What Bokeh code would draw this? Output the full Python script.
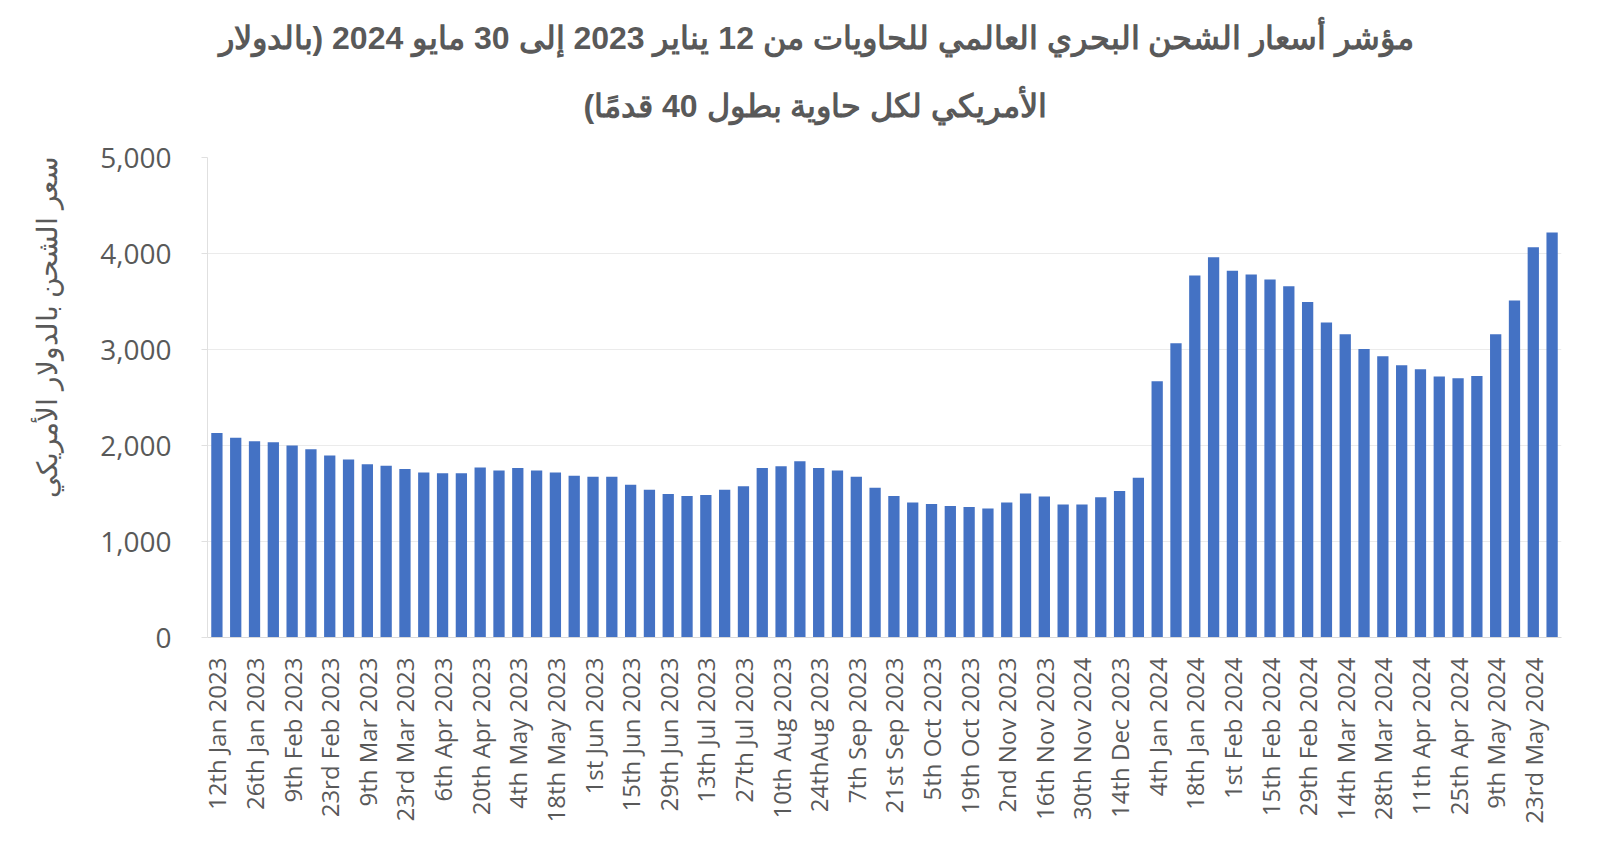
from math import pi
from bokeh.plotting import figure
from bokeh.models import FixedTicker, NumeralTickFormatter, Title, Range1d, ColumnDataSource
from bokeh.embed import file_html
from bokeh.resources import INLINE

title_line1 = "مؤشر أسعار الشحن البحري العالمي للحاويات من 12 يناير 2023 إلى 30 مايو 2024 (بالدولار"
title_line2 = "الأمريكي لكل حاوية بطول 40 قدمًا)" + "\u200f"
y_label = "سعر الشحن بالدولار الأمريكي"

tick_labels = [
    "12th Jan 2023", "26th Jan 2023", "9th Feb 2023", "23rd Feb 2023", "9th Mar 2023",
    "23rd Mar 2023", "6th Apr 2023", "20th Apr 2023", "4th May 2023", "18th May 2023",
    "1st Jun 2023", "15th Jun 2023", "29th Jun 2023", "13th Jul 2023", "27th Jul 2023",
    "10th Aug 2023", "24thAug 2023", "7th Sep 2023", "21st Sep 2023", "5th Oct 2023",
    "19th Oct 2023", "2nd Nov 2023", "16th Nov 2023", "30th Nov 2024", "14th Dec 2023",
    "4th Jan 2024", "18th Jan 2024", "1st Feb 2024", "15th Feb 2024", "29th Feb 2024",
    "14th Mar 2024", "28th Mar 2024", "11th Apr 2024", "25th Apr 2024", "9th May 2024",
    "23rd May 2024",
]

prices = [
    2130, 2080, 2045, 2035, 2000, 1960, 1895, 1855, 1805, 1790,
    1755, 1720, 1710, 1710, 1770, 1740, 1765, 1740, 1720, 1685,
    1675, 1675, 1590, 1540, 1495, 1475, 1485, 1540, 1575, 1765,
    1785, 1835, 1765, 1740, 1675, 1560, 1475, 1405, 1390, 1370,
    1360, 1345, 1405, 1500, 1470, 1385, 1385, 1460, 1525, 1665,
    2670, 3065, 3770, 3960, 3820, 3780, 3730, 3660, 3495, 3280,
    3160, 3005, 2930, 2835, 2795, 2720, 2700, 2725, 3160, 3510,
    4065, 4220,
]

idx = list(range(len(prices)))
src = ColumnDataSource(data=dict(x=idx, top=prices))

GREY = "#595959"

p = figure(
    frame_width=1354, frame_height=480,
    x_range=Range1d(-0.5, len(prices) - 0.5),
    y_range=Range1d(0, 5000),
    output_backend="svg", toolbar_location=None,
    min_border_left=207, min_border_right=20, min_border_top=157, min_border_bottom=185,
)
p.outline_line_color = None
p.background_fill_color = "white"

p.vbar(x="x", top="top", width=0.6, bottom=0, source=src,
       fill_color="#4472C4", line_color=None)

# titles (p.title is the outer line, the added Title sits just above the plot)
p.title.text = title_line1
p.title.align = "left"
p.title.offset = 11
p.title.vertical_align = "bottom"
p.title.text_font = "Liberation Sans"
p.title.text_font_style = "bold"
p.title.text_font_size = "32px"
p.title.text_color = GREY
p.title.standoff = 0
p.add_layout(Title(text=title_line2, align="left", offset=376, vertical_align="top",
                   text_font="Liberation Sans", text_font_style="bold",
                   text_font_size="32px", text_color=GREY,
                   standoff=64), "above")

# x axis
xa = p.xaxis[0]
xa.ticker = FixedTicker(ticks=idx[::2])
xa.major_label_overrides = {i: lab for i, lab in zip(idx[::2], tick_labels)}
xa.major_label_orientation = pi / 2
xa.major_label_text_font = "Open Sans"
xa.major_label_text_font_size = "24px"
xa.major_label_text_color = GREY
xa.major_tick_line_color = None
xa.minor_tick_line_color = None
xa.axis_line_color = "#d9d9d9"
xa.major_label_standoff = 14

# y axis
ya = p.yaxis[0]
ya.ticker = FixedTicker(ticks=[0, 1000, 2000, 3000, 4000, 5000])
ya.formatter = NumeralTickFormatter(format="0,0")
ya.major_label_text_font = "Open Sans"
ya.major_label_text_font_size = "28px"
ya.major_label_text_color = GREY
ya.axis_line_color = "#e0e0e0"
ya.major_tick_line_color = "#e0e0e0"
ya.major_tick_out = 6
ya.major_tick_in = 0
ya.minor_tick_line_color = None
ya.major_label_standoff = 30
ya.axis_label = "\u00a0" * 18 + y_label
ya.axis_label_text_font = "Liberation Sans"
ya.axis_label_text_font_style = "normal"
ya.axis_label_text_font_size = "28px"
ya.axis_label_text_color = GREY
ya.axis_label_standoff = 34

p.xgrid.grid_line_color = None
p.ygrid.grid_line_color = "#ebebeb"
p.ygrid.grid_line_width = 1

open("out.html", "w").write(file_html(p, INLINE))
